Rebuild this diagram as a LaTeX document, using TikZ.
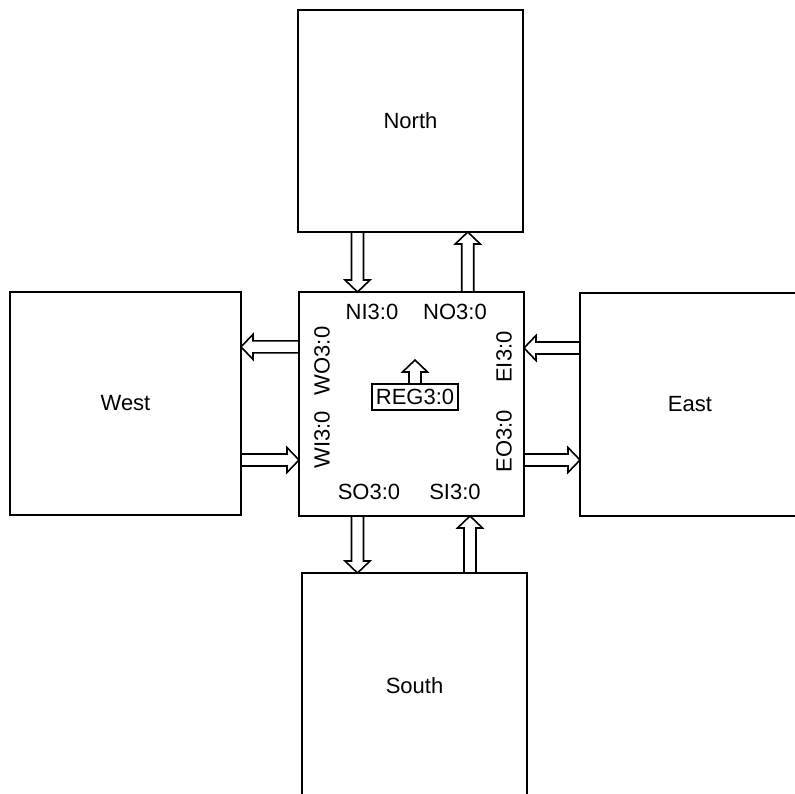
\documentclass[tikz,border=0pt]{standalone}
\usepackage{fontspec}
\setmainfont{Liberation Sans}
\usetikzlibrary{calc, positioning}

\tikzset{
  unitbox/.style={draw, line width=2pt, outer sep=0pt, inner sep=0pt,
    font=\fontsize{22}{26}\selectfont},
  lbl/.style={inner sep=1pt, font=\fontsize{22}{26}\selectfont},
  blockarr/.style={draw, line width=1.6pt, line join=miter, to path={
    let \p1=(\tikztostart), \p2=(\tikztotarget),
        \n1={atan2(\y2-\y1,\x2-\x1)} in
    ($(\p1)+(\n1+90:6pt)$)
    -- ($(\p2)+(\n1+180:12pt)+(\n1+90:6pt)$)
    -- ($(\p2)+(\n1+180:12pt)+(\n1+90:12.5pt)$)
    -- (\p2)
    -- ($(\p2)+(\n1+180:12pt)+(\n1-90:12.5pt)$)
    -- ($(\p2)+(\n1+180:12pt)+(\n1-90:6pt)$)
    -- ($(\p1)+(\n1-90:6pt)$)}}
}

\begin{document}
\begin{tikzpicture}[x=1pt, y=-1pt]
  \fill[white] (0,0) rectangle (795,794);
  \useasboundingbox (0,0) rectangle (795,794);

  % the five units
  \node[unitbox, minimum width=225pt, minimum height=222pt] (N) at (410.5,121) {North};
  \node[unitbox, minimum width=225pt, minimum height=224pt] (C) at (411.5,404) {};
  \node[unitbox, minimum width=231pt, minimum height=223pt] (W) at (125.5,403.5) {West};
  \node[unitbox, minimum width=220pt, minimum height=223pt] (E) at (690,404.5) {East};
  \node[unitbox, minimum width=225pt, minimum height=225pt] (S) at (414.5,685.5) {South};

  % ports of the centre unit
  \coordinate (ni) at ($(C.north west)!0.26!(C.north east)$);
  \coordinate (no) at ($(C.north west)!0.75!(C.north east)$);
  \coordinate (so) at ($(C.south west)!0.26!(C.south east)$);
  \coordinate (si) at ($(C.south west)!0.76!(C.south east)$);
  \coordinate (wo) at ($(C.north west)!0.245!(C.south west)$);
  \coordinate (wi) at ($(C.north west)!0.75!(C.south west)$);
  \coordinate (ei) at ($(C.north east)!0.25!(C.south east)$);
  \coordinate (eo) at ($(C.north east)!0.75!(C.south east)$);

  \draw[blockarr] (ni |- N.south) to (ni);
  \draw[blockarr] (no) to (no |- N.south);
  \draw[blockarr] (wo) to (wo -| W.east);
  \draw[blockarr] (wi -| W.east) to (wi);
  \draw[blockarr] (ei -| E.west) to (ei);
  \draw[blockarr] (eo) to (eo -| E.west);
  \draw[blockarr] (so) to (so |- S.north);
  \draw[blockarr] (si |- S.north) to (si);

  % port names
  \node[lbl] (niL) at (372,312) {NI3:0};
  \node[lbl] (noL) at (455,312) {NO3:0};
  \node[lbl] (soL) at (369,492) {SO3:0};
  \node[lbl] (siL) at (455,492) {SI3:0};
  \node[lbl, rotate=90] (woL) at (322,361) {WO3:0};
  \node[lbl, rotate=90] (wiL) at (322,440) {WI3:0};
  \node[lbl, rotate=90] (eiL) at (504,357) {EI3:0};
  \node[lbl, rotate=90] (eoL) at (504,441) {EO3:0};

  % register
  \node[lbl, draw, line width=1.6pt, inner xsep=4pt, minimum height=26pt] (REG) at (415,397) {REG3:0};
  \coordinate (regtip) at (415,360);
  \draw[blockarr] (REG.north) to (regtip);
\end{tikzpicture}
\end{document}
